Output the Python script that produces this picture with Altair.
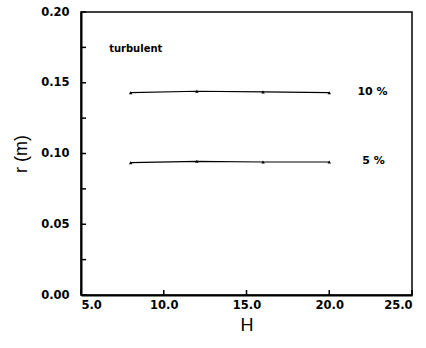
import altair as alt
import pandas as pd

H = [8.0, 12.0, 16.0, 20.0]
r_10 = [0.143, 0.144, 0.1435, 0.143]
r_5 = [0.0935, 0.0945, 0.094, 0.094]
series_labels = ["10 %", "5 %"]
label_H = [21.7, 22.0]
label_r = [0.1435, 0.0945]
y_ticks = [0.0, 0.025, 0.05, 0.075, 0.1, 0.125, 0.15, 0.175, 0.2]
x_ticks = [5.0, 10.0, 15.0, 20.0, 25.0]

df = pd.DataFrame({
    "H": H * 2,
    "r": r_10 + r_5,
    "s": ["10"] * 4 + ["5"] * 4,
})
lab = pd.DataFrame({"H": label_H, "r": label_r, "t": series_labels})
yt = pd.DataFrame({"r": y_ticks})
xt = pd.DataFrame({"H": x_ticks})

FONT = "DejaVu Sans"
TFONT = "Liberation Sans"
xs = alt.Scale(domain=[5, 25], nice=False, zero=False)
ys = alt.Scale(domain=[0, 0.2], nice=False, zero=False)

xaxis = alt.Axis(values=x_ticks, format=".1f", title="H", ticks=False,
                 labelFont=FONT, labelFontWeight="bold", labelFontSize=11.5,
                 labelPadding=4, titleFont=TFONT, titleFontWeight="normal",
                 titleFontSize=18, titlePadding=6, domainColor="black",
                 domainWidth=2, labelColor="black", titleColor="black", grid=False)
yaxis = alt.Axis(values=y_ticks, format=".2f", title="r (m)", ticks=False,
                 labelExpr="round(datum.value*40) % 2 == 0 ? format(datum.value, '.2f') : ''",
                 labelFont=FONT, labelFontWeight="bold", labelFontSize=11.5,
                 labelPadding=12, titleFont=TFONT, titleFontWeight="normal",
                 titleFontSize=18, titlePadding=10, domainColor="black",
                 domainWidth=2, labelColor="black", titleColor="black", grid=False)

base = alt.Chart(df)
lines = base.mark_line(color="black", strokeWidth=1.2).encode(
    x=alt.X("H:Q", scale=xs, axis=xaxis),
    y=alt.Y("r:Q", scale=ys, axis=yaxis),
    detail="s:N",
)
pts = base.mark_point(shape="triangle-up", filled=True, color="black", size=12, opacity=1).encode(
    x=alt.X("H:Q", scale=xs), y=alt.Y("r:Q", scale=ys)
)
texts = alt.Chart(lab).mark_text(font=FONT, fontWeight="bold", fontSize=11, align="left",
                                 color="black").encode(
    x=alt.X("H:Q", scale=xs), y=alt.Y("r:Q", scale=ys), text="t:N"
)
turb = alt.Chart(pd.DataFrame({"H": [6.7], "r": [0.174], "t": ["turbulent"]})).mark_text(
    font=FONT, fontWeight="bold", fontSize=10, align="left", color="black").encode(
    x=alt.X("H:Q", scale=xs), y=alt.Y("r:Q", scale=ys), text="t:N"
)
ytk = alt.Chart(yt).mark_rule(color="black", strokeWidth=1.5).encode(
    y=alt.Y("r:Q", scale=ys), x=alt.value(0), x2=alt.value(5)
)
xtk = alt.Chart(xt).mark_rule(color="black", strokeWidth=1.5).encode(
    x=alt.X("H:Q", scale=xs), y=alt.value(283), y2=alt.value(278)
)

chart = alt.layer(lines, pts, texts, turb, ytk, xtk).properties(
    width=331, height=283,
    background="white",
    autosize=alt.AutoSizeParams(type="none"),
    padding={"left": 81, "top": 12, "right": 14, "bottom": 53},
).configure_view(stroke="black", strokeWidth=1.5)

chart.save("out.html", embed_options={"renderer": "svg", "actions": False})
